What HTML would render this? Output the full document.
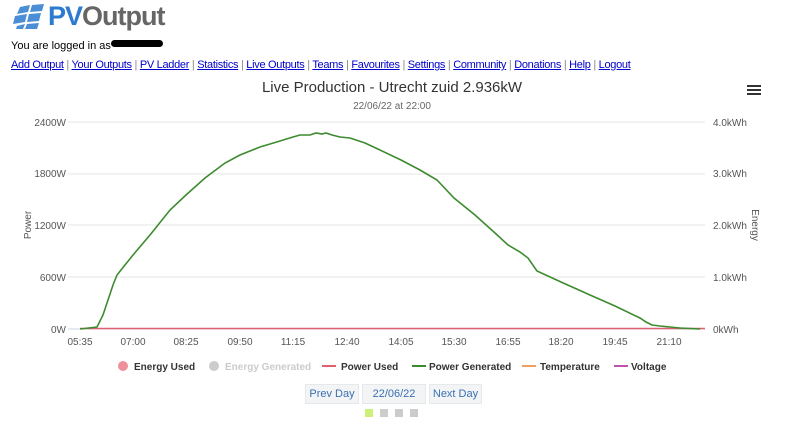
<!DOCTYPE html>
<html><head><meta charset="utf-8"><style>
body{margin:0;width:800px;height:425px;background:#fff;font-family:"Liberation Sans",Arial,sans-serif;overflow:hidden;position:relative}
.logo{position:absolute;left:12px;top:1px;font-size:27px;font-weight:bold;letter-spacing:-1px}
.login{position:absolute;left:11px;top:40px;font-size:11px;color:#000}
.nav{position:absolute;left:11px;top:59px;font-size:11px;letter-spacing:-0.3px;color:#888;white-space:nowrap}
.nav a{color:#00c;text-decoration:underline}
.btn{position:absolute;top:384px;height:18px;background:#f2f4f6;border:1px solid #e6e8ea;color:#3a70b0;font-size:11px;line-height:18px;text-align:center}
.sq{position:absolute;top:409px;width:8px;height:8px;background:#ccc}
</style></head><body>
<div class="logo"><svg width="36" height="26" style="vertical-align:-4px"><g fill="#4a8fd6"><polygon points="8,4 18,2 16,9 5,11"/><polygon points="20,2 32,1 30,8 18,9"/><polygon points="3,13 15,11 13,19 1,21"/><polygon points="17,11 29,10 27,18 15,19"/><polygon points="5,23 13,21 11,26 4,26"/><polygon points="15,21 27,20 25,26 13,26"/></g></svg><span style="color:#2d7bd0">PV</span><span style="color:#666">Output</span></div>
<div class="login">You are logged in as<span style="display:inline-block;width:52px;height:7px;background:#000;border-radius:4px;vertical-align:2px"></span></div>
<div class="nav"><a>Add Output</a> | <a>Your Outputs</a> | <a>PV Ladder</a> | <a>Statistics</a> | <a>Live Outputs</a> | <a>Teams</a> | <a>Favourites</a> | <a>Settings</a> | <a>Community</a> | <a>Donations</a> | <a>Help</a> | <a>Logout</a></div>
<svg width="800" height="425" style="position:absolute;left:0;top:0" font-family="Liberation Sans,Arial,sans-serif">
<text x="392" y="92" text-anchor="middle" font-size="15" fill="#333">Live Production - Utrecht zuid 2.936kW</text>
<text x="392" y="109" text-anchor="middle" font-size="10" fill="#666">22/06/22 at 22:00</text>
<g stroke="#333" stroke-width="2"><line x1="747" y1="86" x2="761" y2="86"/><line x1="747" y1="90" x2="761" y2="90"/><line x1="747" y1="94" x2="761" y2="94"/></g>
<g stroke="#e6e6e6"><line x1="68" y1="122" x2="705" y2="122"/><line x1="68" y1="174" x2="705" y2="174"/><line x1="68" y1="225" x2="705" y2="225"/><line x1="68" y1="277" x2="705" y2="277"/></g>
<line x1="68" y1="329" x2="705" y2="329" stroke="#ccd6eb"/>
<g font-size="10" fill="#555" text-anchor="end"><text x="66" y="126">2400W</text><text x="66" y="177">1800W</text><text x="66" y="229">1200W</text><text x="66" y="281">600W</text><text x="66" y="333">0W</text></g>
<g font-size="10" fill="#555"><text x="713" y="126">4.0kWh</text><text x="713" y="177">3.0kWh</text><text x="713" y="229">2.0kWh</text><text x="713" y="281">1.0kWh</text><text x="713" y="333">0kWh</text></g>
<text transform="translate(31,225) rotate(-90)" text-anchor="middle" font-size="10" fill="#555">Power</text>
<text transform="translate(752,225) rotate(90)" text-anchor="middle" font-size="10" fill="#555">Energy</text>
<g font-size="10" fill="#555" text-anchor="middle"><text x="80" y="345">05:35</text><text x="133" y="345">07:00</text><text x="186" y="345">08:25</text><text x="240" y="345">09:50</text><text x="293" y="345">11:15</text><text x="347" y="345">12:40</text><text x="401" y="345">14:05</text><text x="454" y="345">15:30</text><text x="508" y="345">16:55</text><text x="561" y="345">18:20</text><text x="615" y="345">19:45</text><text x="669" y="345">21:10</text></g>
<line x1="80" y1="328.5" x2="705" y2="328.5" stroke="#e06070" stroke-width="1.5"/>
<polyline fill="none" stroke="#3d8b2f" stroke-width="1.6" points="80,329 97,327 103,315 108,300 113,285 117,275 125,265 133,255 150,235 170,210 186,195 205,178 225,163 240,155 260,147 280,141 293,137 300,135 310,135 316,133 322,134 326,133 332,135 340,137 350,138 365,143 380,150 401,160 420,170 437,180 454,198 475,215 495,233 508,245 520,252 528,258 537,271 561,282 590,295 615,306 640,318 646,322 652,325 660,326 680,328 700,329"/>
<g font-size="10" font-weight="bold" fill="#333">
<circle cx="123" cy="366" r="5" fill="#f08f9c"/><text x="134" y="370">Energy Used</text>
<circle cx="214" cy="366" r="5" fill="#ccc"/><text x="225" y="370" fill="#ccc">Energy Generated</text>
<line x1="322" y1="366" x2="336" y2="366" stroke="#e06070" stroke-width="2"/><text x="341" y="370">Power Used</text>
<line x1="412" y1="366" x2="426" y2="366" stroke="#3d8b2f" stroke-width="2"/><text x="429" y="370">Power Generated</text>
<line x1="522" y1="366" x2="536" y2="366" stroke="#f0a060" stroke-width="2"/><text x="540" y="370">Temperature</text>
<line x1="614" y1="366" x2="628" y2="366" stroke="#c050b0" stroke-width="2"/><text x="631" y="370">Voltage</text>
</g>
</svg>
<div class="btn" style="left:305px;width:52px">Prev Day</div>
<div class="btn" style="left:362px;width:62px">22/06/22</div>
<div class="btn" style="left:429px;width:51px">Next Day</div>
<div class="sq" style="left:365px;background:#ccf07a"></div>
<div class="sq" style="left:380px"></div>
<div class="sq" style="left:395px"></div>
<div class="sq" style="left:410px"></div>
</body></html>
